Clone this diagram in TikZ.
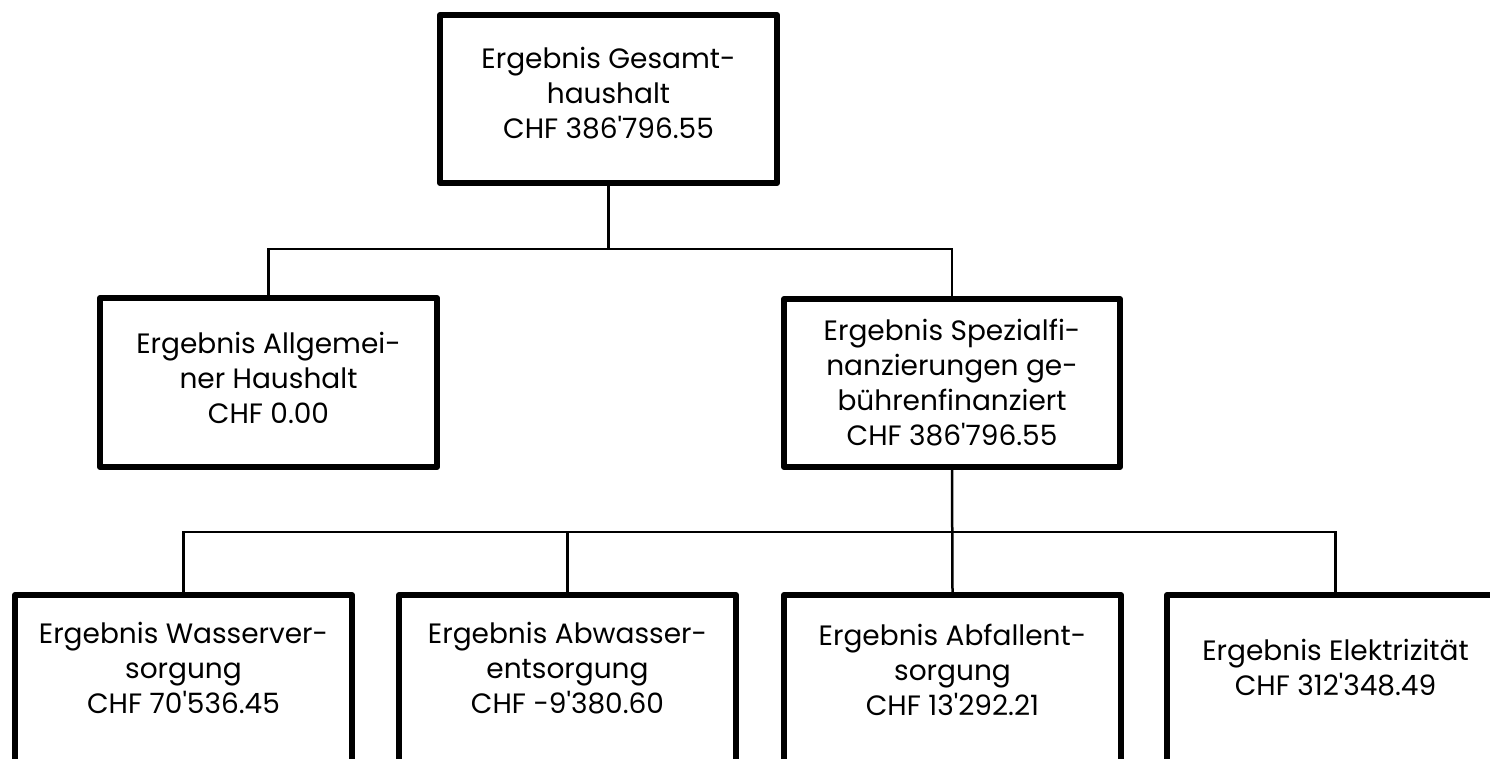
\documentclass[tikz,border=0pt]{standalone}
\usepackage{fontspec}
\setmainfont{Poppins}[Ligatures=TeXOff]
\begin{document}
\begin{tikzpicture}[x=1pt,y=-1pt,
  box/.style={draw, line width=6pt, line join=round, inner sep=0pt, minimum width=337pt, fill=white},
  txt/.style={align=center, font=\fontsize{28}{35}\selectfont, inner sep=0pt},
  conn/.style={line width=2.5pt}]
\useasboundingbox (0,0) rectangle (1490,758);
% boxes
\node[box, minimum height=168pt] (ges) at (608.5,99) {};
\node[box, minimum height=169pt] (allg) at (268.5,382.5) {};
\node[box, minimum width=336pt, minimum height=168pt] (spez) at (952,383) {};
\node[box, minimum height=250pt, anchor=north] (wass) at (183.5,592) {};
\node[box, minimum height=250pt, anchor=north] (abw) at (567.5,592) {};
\node[box, minimum height=250pt, anchor=north] (abf) at (952.5,592) {};
\node[box, minimum height=250pt, anchor=north] (elek) at (1335.5,592) {};
% texts
\node[txt] (gest) at (608.5,93) {Ergebnis Gesamt-\\haushalt\\CHF 386'796.55};
\node[txt] (allgt) at (268.5,378) {Ergebnis Allgemei-\\ner Haushalt\\CHF 0.00};
\node[txt] (spezt) at (952,383) {Ergebnis Spezialfi-\\nanzierungen ge-\\bührenfinanziert\\CHF 386'796.55};
\node[txt] (wasst) at (183.5,668) {Ergebnis Wasserver-\\sorgung\\CHF 70'536.45};
\node[txt] (abwt) at (567.5,668) {Ergebnis Abwasser-\\entsorgung\\CHF -9'380.60};
\node[txt] (abft) at (952.5,670) {Ergebnis Abfallent-\\sorgung\\CHF 13'292.21};
\node[txt] (elekt) at (1335.5,668) {Ergebnis Elektrizität\\CHF 312'348.49};
% connectors
\coordinate (bus1) at (608.5,249);
\coordinate (bus2) at (952.5,532);
\draw[conn] (ges.south) -- (bus1);
\draw[conn] (allg.north) |- (bus1) -| (spez.north);
\draw[conn] (wass.north) |- (bus2) -| (elek.north);
\draw[conn] (abw.north) -- (abw.north |- bus2);
\draw[conn] (spez.south) -- (abf.north);
\end{tikzpicture}
\end{document}
